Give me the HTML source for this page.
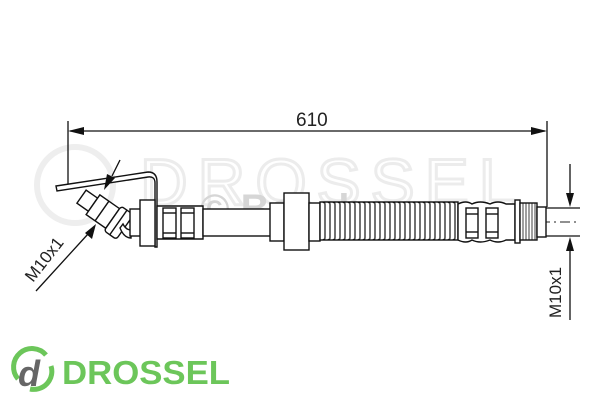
<!DOCTYPE html>
<html><head><meta charset="utf-8"><style>
html,body{margin:0;padding:0;background:#fff;width:600px;height:400px;overflow:hidden}
svg{display:block}
</style></head><body>
<svg width="600" height="400" viewBox="0 0 600 400" xmlns="http://www.w3.org/2000/svg" font-family="Liberation Sans, sans-serif">
<!-- watermark -->
<circle cx="75" cy="185" r="38" fill="none" stroke="#eeeeee" stroke-width="6"/>
<text x="140" y="205" font-size="66" fill="none" stroke="#ececec" stroke-width="3" letter-spacing="10">DROSSEL</text>
<text x="200" y="222" font-size="40" font-weight="bold" fill="#d6d6d6">© Bosch</text>

<!-- dimension -->
<g stroke="#111" stroke-width="1.3" fill="none">
<line x1="68" y1="121" x2="68" y2="186"/>
<line x1="547" y1="121" x2="547" y2="207"/>
<line x1="70" y1="131" x2="545" y2="131"/>
</g>
<path d="M68,131 L84,127 L84,135 Z" fill="#111"/>
<path d="M547,131 L531,127 L531,135 Z" fill="#111"/>
<text x="296" y="126" font-size="19" fill="#222">610</text>

<line x1="120" y1="222" x2="580" y2="222" stroke="#222" stroke-width="1" stroke-dasharray="10,4,2,4"/>

<g stroke="#111" stroke-width="1.4" fill="#fff">
<path d="M56,186 L148,172 Q157,172 157,182 L157,247 L155,247 L155,183 Q155,176 148,177 L57,191 Z"/>
<g transform="translate(102,211) rotate(35)">
<rect x="-25" y="-8" width="14" height="16"/>
<rect x="-11" y="-12" width="24" height="24"/>
<rect x="13" y="-15" width="15" height="30" rx="3"/>
<line x1="0" y1="-12" x2="0" y2="12"/>
<line x1="20" y1="-15" x2="20" y2="15"/>
</g>
<path d="M120,228 Q124,238 131,238 L131,230 Q126,230 123,224 Z"/>
<rect x="130" y="209" width="11" height="27"/>
<rect x="140" y="200" width="15" height="46"/>
<path d="M157,206 L203,206 L203,239 L157,239 Z"/>
<rect x="163" y="208" width="13" height="30" fill="none"/>
<rect x="181" y="208" width="13" height="30" fill="none"/>
<line x1="163" y1="213" x2="176" y2="213"/><line x1="163" y1="233" x2="176" y2="233"/>
<line x1="181" y1="213" x2="194" y2="213"/><line x1="181" y1="233" x2="194" y2="233"/>
<rect x="203" y="209" width="68" height="27"/>
<rect x="270" y="203" width="14" height="38"/>
<rect x="284" y="193" width="25" height="57"/>
<rect x="309" y="203" width="11" height="38"/>
<rect x="320" y="202" width="138" height="38" fill="#fff"/>
</g>
<g stroke="#111" stroke-width="1.2" fill="none">
<path d="M323,203 q2,-2 2,2 v32 q0,4 -2,2 M328,203 q2,-2 2,2 v32 q0,4 -2,2 M333,203 q2,-2 2,2 v32 q0,4 -2,2 M338,203 q2,-2 2,2 v32 q0,4 -2,2 M343,203 q2,-2 2,2 v32 q0,4 -2,2 M348,203 q2,-2 2,2 v32 q0,4 -2,2 M353,203 q2,-2 2,2 v32 q0,4 -2,2 M358,203 q2,-2 2,2 v32 q0,4 -2,2 M363,203 q2,-2 2,2 v32 q0,4 -2,2 M368,203 q2,-2 2,2 v32 q0,4 -2,2 M373,203 q2,-2 2,2 v32 q0,4 -2,2 M378,203 q2,-2 2,2 v32 q0,4 -2,2 M383,203 q2,-2 2,2 v32 q0,4 -2,2 M388,203 q2,-2 2,2 v32 q0,4 -2,2 M393,203 q2,-2 2,2 v32 q0,4 -2,2 M398,203 q2,-2 2,2 v32 q0,4 -2,2 M403,203 q2,-2 2,2 v32 q0,4 -2,2 M408,203 q2,-2 2,2 v32 q0,4 -2,2 M413,203 q2,-2 2,2 v32 q0,4 -2,2 M418,203 q2,-2 2,2 v32 q0,4 -2,2 M423,203 q2,-2 2,2 v32 q0,4 -2,2 M428,203 q2,-2 2,2 v32 q0,4 -2,2 M433,203 q2,-2 2,2 v32 q0,4 -2,2 M438,203 q2,-2 2,2 v32 q0,4 -2,2 M443,203 q2,-2 2,2 v32 q0,4 -2,2 M448,203 q2,-2 2,2 v32 q0,4 -2,2 M453,203 q2,-2 2,2 v32 q0,4 -2,2"/>
</g>
<g stroke="#111" stroke-width="1.4" fill="#fff">
<path d="M458,204 Q466,200 472,204 Q480,200 490,204 Q498,200 506,204 L515,204 L515,240 L506,240 Q498,244 490,240 Q480,244 472,240 Q466,244 458,240 Z"/>
<rect x="466" y="208" width="12" height="30" fill="none"/>
<rect x="486" y="208" width="12" height="30" fill="none"/>
<line x1="466" y1="214" x2="478" y2="214"/><line x1="466" y1="232" x2="478" y2="232"/>
<line x1="486" y1="214" x2="498" y2="214"/><line x1="486" y1="232" x2="498" y2="232"/>
<rect x="515" y="200" width="5" height="43"/>
<rect x="520" y="203" width="17" height="37"/>
<path d="M523,203V240M526,203V240M529,203V240M532,203V240M535,203V240" stroke-width="0.8"/>
<rect x="537" y="207" width="9" height="30"/>
</g>

<g stroke="#111" stroke-width="1.3">
<line x1="546" y1="208" x2="580" y2="208"/>
<line x1="546" y1="236" x2="580" y2="236"/>
<line x1="570" y1="164" x2="570" y2="195"/>
<line x1="570" y1="250" x2="570" y2="320"/>
</g>
<path d="M570,207 L566,193 L574,193 Z" fill="#111"/>
<path d="M570,237 L566,251 L574,251 Z" fill="#111"/>
<text transform="translate(561,318) rotate(-90)" font-size="17" fill="#222">M10x1</text>

<g stroke="#111" stroke-width="1.3">
<line x1="36" y1="291" x2="88" y2="234"/>
<line x1="120" y1="160" x2="112" y2="176"/>
</g>
<path d="M96,224 L92,239 L85,233 Z" fill="#111"/>
<path d="M104,190 L107,174 L115,178 Z" fill="#111"/>
<text transform="translate(33,283) rotate(-52)" font-size="17" fill="#222">M10x1</text>

<!-- logo -->
<path d="M18,379 A18,18 0 0 1 46,355" fill="none" stroke="#6cc65a" stroke-width="5"/>
<path d="M51,366 A18,18 0 0 1 30,389" fill="none" stroke="#6cc65a" stroke-width="5"/>
<text x="18" y="386" font-size="36" font-weight="bold" font-style="italic" fill="#666">d</text>
<text x="62" y="384" font-size="33" font-weight="bold" fill="#6cc65a" textLength="168" lengthAdjust="spacingAndGlyphs">DROSSEL</text>
</svg>
</body></html>
